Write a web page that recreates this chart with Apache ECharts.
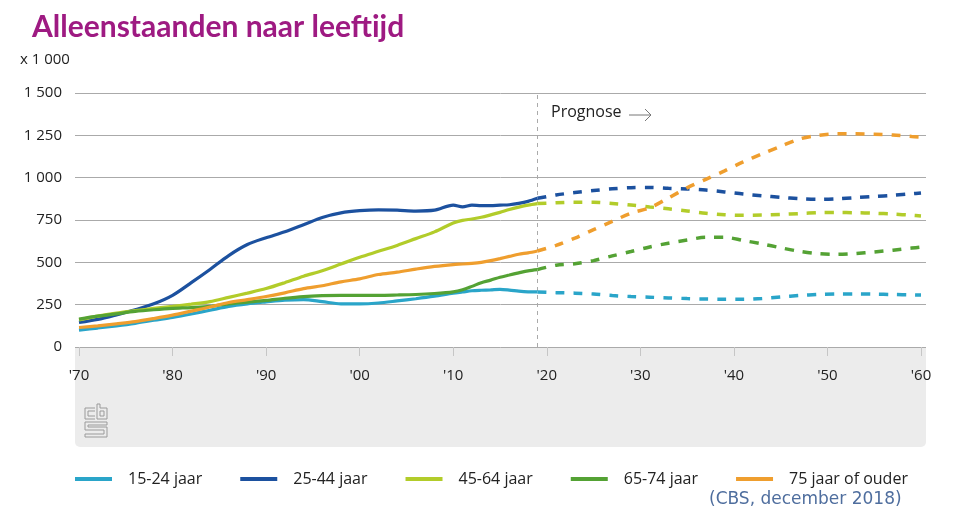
<!DOCTYPE html>
<html><head><meta charset="utf-8">
<script src="https://cdn.jsdelivr.net/npm/echarts@6/dist/echarts.min.js"></script>
<style>html,body{margin:0;padding:0;background:#fff}#c{width:960px;height:528px}</style>
</head><body><div id="c"></div>
<script>
// ---- data ----
const seriesNames = ['15-24 jaar', '25-44 jaar', '45-64 jaar', '65-74 jaar', '75 jaar of ouder'];
const colors = ['#2AA5C9', '#1C519F', '#B2CC2A', '#54A234', '#EF9E2E'];
const yTicks = [0, 250, 500, 750, 1000, 1250, 1500];
const xTickYears = [1970, 1980, 1990, 2000, 2010, 2020, 2030, 2040, 2050, 2060];
const xTickLabels = ["'70", "'80", "'90", "'00", "'10", "'20", "'30", "'40", "'50", "'60"];
const prognoseYear = 2019;

const histYears = [1970,1972,1974,1976,1978,1980,1982,1984,1986,1988,1990,1992,1994,1996,1998,2000,2002,2004,2006,2008,2010,2011,2012,2013,2014,2015,2016,2017,2018,2019];
const hist15_24 = [100,112,125,140,158,175,195,217,240,255,266,276,280,268,255,255,260,272,285,300,318,325,332,335,337,340,336,330,326,325];
const hist25_44 = [145,163,190,220,255,305,380,458,540,605,645,680,722,765,792,805,810,808,803,808,838,828,838,835,835,838,840,848,860,878];
const hist45_64 = [160,182,200,215,228,240,253,268,293,318,345,380,418,450,490,530,565,600,640,680,732,748,756,766,780,795,812,826,838,847];
const hist65_74 = [165,182,196,210,220,228,233,240,255,265,275,288,298,303,305,305,305,307,310,316,326,338,358,380,395,412,425,438,450,457];
const hist75plus = [115,125,137,150,168,188,212,236,263,280,298,320,345,362,385,402,428,442,460,476,487,490,494,500,510,522,535,548,556,567];

const progYears = [2019,2021,2023,2025,2027,2029,2031,2033,2035,2037,2039,2041,2043,2045,2047,2049,2051,2053,2055,2057,2059,2060];
const prog15_24 = [325,321,318,313,304,298,294,290,286,283,282,282,287,296,304,310,313,313,312,310,308,307];
const prog25_44 = [878,898,912,924,934,941,942,937,933,927,916,903,893,884,876,872,875,882,889,896,905,910];
const prog45_64 = [847,852,855,855,848,838,827,816,803,790,781,778,779,783,788,793,794,793,790,785,778,774];
const prog65_74 = [457,483,492,510,538,564,591,613,632,648,648,629,609,586,565,551,547,552,561,572,584,590];
const prog75plus = [567,600,643,693,742,790,822,880,940,990,1040,1093,1140,1185,1228,1250,1259,1259,1257,1252,1243,1240];

const histAll = [hist15_24, hist25_44, hist45_64, hist65_74, hist75plus];
const progAll = [prog15_24, prog25_44, prog45_64, prog65_74, prog75plus];

// ---- chart ----
const chart = echarts.init(document.getElementById('c'), null, {renderer: 'canvas'});
const font = "'Open Sans', 'Noto Sans', sans-serif";

const series = [];
histAll.forEach((arr, i) => {
  series.push({
    name: seriesNames[i], type: 'line', symbol: 'none', smooth: 0.3,
    data: histYears.map((y, k) => [y, arr[k]]),
    lineStyle: {color: colors[i], width: 3.2},
    itemStyle: {color: colors[i]},
    z: 5,
    markLine: i === 0 ? {
      silent: true, symbol: 'none',
      lineStyle: {color: '#aaa', type: [4, 4], width: 1},
      label: {show: false},
      data: [{xAxis: prognoseYear}]
    } : undefined
  });
});
progAll.forEach((arr, i) => {
  series.push({
    name: seriesNames[i] + ' prognose', type: 'line', symbol: 'none', smooth: 0.3,
    data: progYears.map((y, k) => [y, arr[k]]),
    lineStyle: {color: colors[i], width: 3.5, type: [9, 9]},
    itemStyle: {color: colors[i]},
    z: 5
  });
});

const gx0 = 75, gx1 = 926, gTop = 93, gBot = 347;
const pxPerYear = (921 - 79) / 90;
const xmin = 1970 - (79 - gx0) / pxPerYear;
const xmax = 2060 + (gx1 - 921) / pxPerYear;

const logoStroke = {stroke: '#9a9a9a', lineWidth: 1, fill: null};

chart.setOption({
  animation: false,
  backgroundColor: '#fff',
  textStyle: {fontFamily: font},
  title: {
    text: 'Alleenstaanden naar leeftijd',
    left: 27, top: 7,
    textStyle: {color: '#9E1A82', fontSize: 30, fontWeight: 'bold', fontFamily: "Lato, 'Open Sans', sans-serif"}
  },
  grid: {left: gx0, right: 960 - gx1, top: gTop, bottom: 528 - gBot, containLabel: false},
  xAxis: {
    type: 'value', min: xmin, max: xmax,
    axisLine: {show: false},
    splitLine: {show: false},
    axisTick: {show: true, customValues: xTickYears, length: 9, lineStyle: {color: '#c6c6c6', width: 1}},
    axisLabel: {
      customValues: xTickYears, margin: 21, color: '#222', fontSize: 15, fontFamily: font,
      formatter: v => xTickLabels[xTickYears.indexOf(Math.round(v))] || ''
    }
  },
  yAxis: {
    type: 'value', min: 0, max: 1500, interval: 250,
    axisLine: {show: false}, axisTick: {show: false},
    splitLine: {lineStyle: {color: '#aaaaaa', width: 1}},
    axisLabel: {
      color: '#222', fontSize: 15, margin: 13, fontFamily: font,
      formatter: v => yTicks.includes(v) ? String(v).replace(/\B(?=(\d{3})+(?!\d))/g, ' ') : ''
    }
  },
  legend: {
    data: seriesNames,
    left: 70, top: 466,
    icon: 'rect', itemWidth: 37, itemHeight: 4, itemGap: 38,
    textStyle: {color: '#222', fontSize: 16, fontFamily: font, padding: [0, 0, 0, 11]}
  },
  graphic: [
    {type: 'rect', z: -10, shape: {x: gx0, y: gBot, width: gx1 - gx0, height: 100, r: [0, 0, 5, 5]}, style: {fill: '#ececec'}},
    {type: 'text', left: 20, top: 52, style: {text: 'x 1 000', fill: '#222', font: "15px 'Open Sans', sans-serif"}},
    {type: 'text', left: 551, top: 104, style: {text: 'Prognose', fill: '#222', font: "16px 'Open Sans', sans-serif"}},
    {type: 'polyline', shape: {points: [[629, 115], [651, 115]]}, style: {stroke: '#777', lineWidth: 1}},
    {type: 'polyline', shape: {points: [[645, 109], [651, 115], [645, 121]]}, style: {stroke: '#777', lineWidth: 1, fill: null}},
    {type: 'text', left: 709, top: 491, style: {text: '(CBS, december 2018)', fill: '#4F6E9E', font: "17px 'DejaVu Sans', sans-serif"}},
    // cbs logo
    {type: 'polyline', shape: {points: [[95, 408], [85, 408], [85, 419], [95, 419]]}, style: logoStroke},
    {type: 'polyline', shape: {points: [[95, 411], [88, 411], [88, 416], [95, 416]]}, style: logoStroke},
    {type: 'polyline', shape: {points: [[97, 404], [97, 419], [107, 419], [107, 408], [100, 408], [100, 404], [97, 404]]}, style: logoStroke},
    {type: 'rect', shape: {x: 100, y: 411, width: 4, height: 5}, style: logoStroke},
    {type: 'polyline', shape: {points: [[107, 422], [85, 422], [85, 430], [104, 430], [104, 434], [85, 434], [85, 437], [107, 437], [107, 427], [88, 427], [88, 425], [107, 425], [107, 422]]}, style: logoStroke}
  ],
  series: series
});
</script></body></html>
